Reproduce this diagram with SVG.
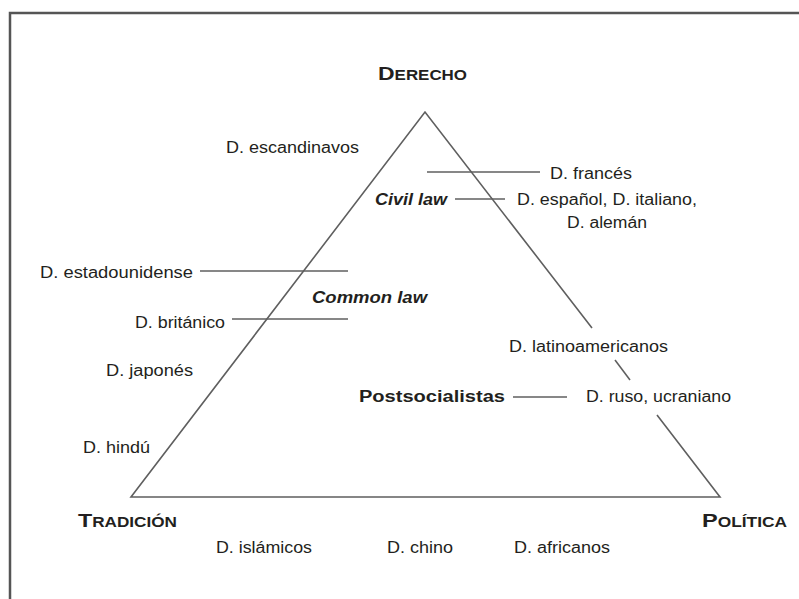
<svg xmlns="http://www.w3.org/2000/svg" width="799" height="599" viewBox="0 0 799 599">
<style>
text{font-family:"Liberation Sans",Arial,sans-serif;fill:#231f20;font-size:16px}
.b{font-weight:bold}
.bi{font-weight:bold;font-style:italic}
.sc{font-weight:bold;font-size:14px}
.cap{font-size:19px}
.ln{stroke:#5f5f5f;stroke-width:1.6;fill:none}
.frame{stroke:#555;stroke-width:2.5;fill:none}
</style>
<rect width="799" height="599" fill="#fff"/>
<path class="frame" d="M10,620 V13 H820"/>
<g id="triangle">
<path class="ln" d="M592,328 L425,112 L131,497 L720,497 L657,415"/>
<path class="ln" d="M615,360 L630,380"/>
</g>
<g id="connectors">
<path class="ln" d="M427,172 H540"/>
<path class="ln" d="M455,199 H505"/>
<path class="ln" d="M200,271 H348"/>
<path class="ln" d="M232,319 H348"/>
<path class="ln" d="M513,397 H567"/>
</g>
<g id="derecho"><text x="378" y="80" class="sc" textLength="89" lengthAdjust="spacingAndGlyphs"><tspan class="cap">D</tspan>ERECHO</text></g>
<g id="tradicion"><text x="78" y="527" class="sc" textLength="99" lengthAdjust="spacingAndGlyphs"><tspan class="cap">T</tspan>RADICIÓN</text></g>
<g id="politica"><text x="702" y="527" class="sc" textLength="85" lengthAdjust="spacingAndGlyphs"><tspan class="cap">P</tspan>OLÍTICA</text></g>
<g id="escandinavos"><text x="226" y="153" textLength="133" lengthAdjust="spacingAndGlyphs">D. escandinavos</text></g>
<g id="frances"><text x="550" y="179" textLength="82" lengthAdjust="spacingAndGlyphs">D. francés</text></g>
<g id="civil-law"><text x="375" y="205" class="bi" textLength="72" lengthAdjust="spacingAndGlyphs">Civil law</text></g>
<g id="espanol"><text x="517" y="205" textLength="180" lengthAdjust="spacingAndGlyphs">D. español, D. italiano,</text><text x="567" y="228" textLength="80" lengthAdjust="spacingAndGlyphs">D. alemán</text></g>
<g id="estadounidense"><text x="40" y="278" textLength="153" lengthAdjust="spacingAndGlyphs">D. estadounidense</text></g>
<g id="common-law"><text x="312" y="303" class="bi" textLength="115" lengthAdjust="spacingAndGlyphs">Common law</text></g>
<g id="britanico"><text x="135" y="328" textLength="90" lengthAdjust="spacingAndGlyphs">D. británico</text></g>
<g id="japones"><text x="106" y="376" textLength="87" lengthAdjust="spacingAndGlyphs">D. japonés</text></g>
<g id="latinoamericanos"><text x="509" y="352" textLength="159" lengthAdjust="spacingAndGlyphs">D. latinoamericanos</text></g>
<g id="postsocialistas"><text x="359" y="402" class="b" textLength="146" lengthAdjust="spacingAndGlyphs">Postsocialistas</text></g>
<g id="ruso"><text x="586" y="402" textLength="145" lengthAdjust="spacingAndGlyphs">D. ruso, ucraniano</text></g>
<g id="hindu"><text x="83" y="453" textLength="67" lengthAdjust="spacingAndGlyphs">D. hindú</text></g>
<g id="islamicos"><text x="216" y="553" textLength="96" lengthAdjust="spacingAndGlyphs">D. islámicos</text></g>
<g id="chino"><text x="387" y="553" textLength="66" lengthAdjust="spacingAndGlyphs">D. chino</text></g>
<g id="africanos"><text x="514" y="553" textLength="96" lengthAdjust="spacingAndGlyphs">D. africanos</text></g>
</svg>
